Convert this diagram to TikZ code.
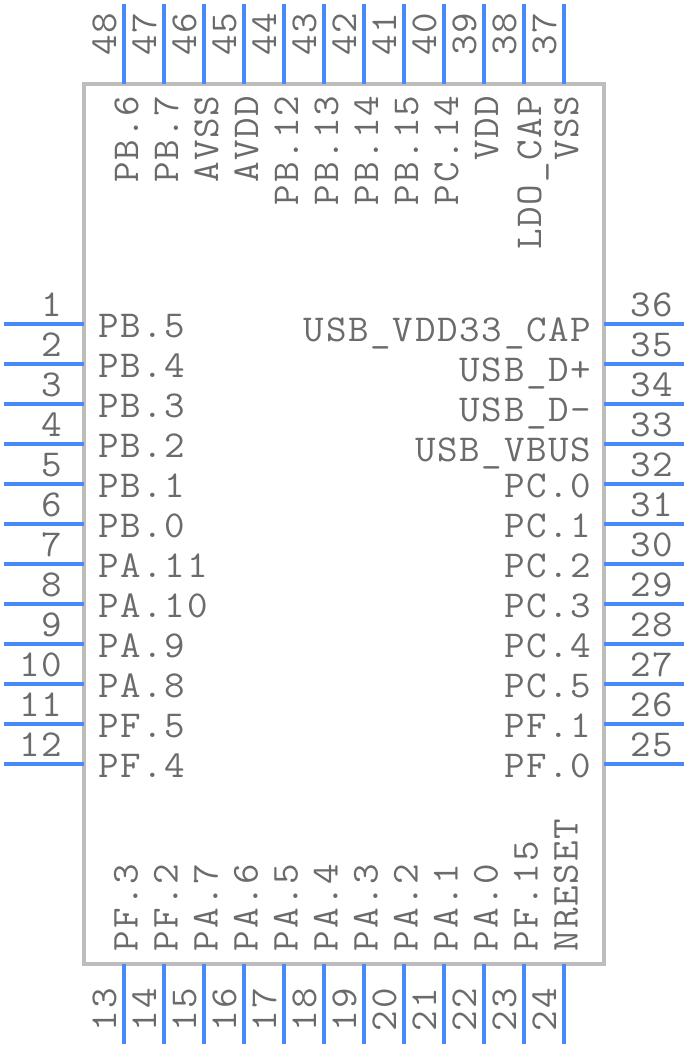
\documentclass[tikz,border=0pt]{standalone}
\usepackage{fontspec}
\newfontfamily\pinfont[FakeStretch=1.05,LetterSpace=4.5]{Latin Modern Mono}
\definecolor{pinblue}{RGB}{70,137,248}
\definecolor{bodygray}{RGB}{189,189,189}
\definecolor{textgray}{RGB}{107,107,107}
\tikzset{
  pinline/.style={draw=pinblue,line width=4pt},
  bodybox/.style={draw=bodygray,line width=4pt,minimum width=520pt,minimum height=880pt,inner sep=0pt,outer sep=0pt,fill=none},
  lbl/.style={inner sep=0pt,outer sep=0pt,text=textgray,font=\pinfont\fontsize{38}{38}\selectfont},
}
\begin{document}
\begin{tikzpicture}[x=1pt,y=-1pt]
\useasboundingbox (0,0) rectangle (688,1048);
\node[bodybox] (body) at (344,524) {};
% left side
\foreach \n/\t/\o [count=\i from 0] in {1/PB.5/0,2/PB.4/0,3/PB.3/0,4/PB.2/0,5/PB.1/0,6/PB.0/0,7/PA.11/0,8/PA.10/0,9/PA.9/0,10/PA.8/0,11/PF.5/0,12/PF.4/0}{
  \pgfmathsetmacro\yy{324+40*\i}
  \coordinate (tip\n) at (4,\yy);
  \coordinate (base\n) at (body.west |- tip\n);
  \draw[pinline] (tip\n) -- (base\n);
  \node[lbl,anchor=base east] (num\n) at (62,\yy-7.5) {\n};
  \node[lbl,anchor=base west] (name\n) at (98,\yy+13.5) {\t};
}
% right side
\foreach \n/\t/\o [count=\i from 0] in {36/USB\_VDD33\_CAP/3.5,35/USB\_D+/3.5,34/USB\_D-/3.5,33/USB\_VBUS/3.5,32/PC.0/0,31/PC.1/0,30/PC.2/0,29/PC.3/0,28/PC.4/0,27/PC.5/0,26/PF.1/0,25/PF.0/0}{
  \pgfmathsetmacro\yy{324+40*\i}
  \coordinate (tip\n) at (684,\yy);
  \coordinate (base\n) at (body.east |- tip\n);
  \draw[pinline] (tip\n) -- (base\n);
  \node[lbl,anchor=base west] (num\n) at (630.5,\yy-7.5) {\n};
  \node[lbl,anchor=base east] (name\n) at (591.5,\yy+13.5+\o) {\t};
}
% bottom side
\foreach \n/\t/\o [count=\i from 0] in {13/PF.3/0,14/PF.2/0,15/PA.7/0,16/PA.6/0,17/PA.5/0,18/PA.4/0,19/PA.3/0,20/PA.2/0,21/PA.1/0,22/PA.0/0,23/PF.15/0,24/NRESET/0}{
  \pgfmathsetmacro\xx{124+40*\i}
  \coordinate (tip\n) at (\xx,1044);
  \coordinate (base\n) at (tip\n |- body.south);
  \draw[pinline] (tip\n) -- (base\n);
  \node[lbl,rotate=90,anchor=base west] (num\n) at (\xx-8,1031) {\n};
  \node[lbl,rotate=90,anchor=base west] (name\n) at (\xx+13.5,951) {\t};
}
% top side
\foreach \n/\t/\o [count=\i from 0] in {48/PB.6/0,47/PB.7/0,46/AVSS/0,45/AVDD/0,44/PB.12/0,43/PB.13/0,42/PB.14/0,41/PB.15/0,40/PC.14/0,39/VDD/0,38/LDO\_CAP/3,37/VSS/0}{
  \pgfmathsetmacro\xx{124+40*\i}
  \coordinate (tip\n) at (\xx,4);
  \coordinate (base\n) at (tip\n |- body.north);
  \draw[pinline] (tip\n) -- (base\n);
  \node[lbl,rotate=90,anchor=base west] (num\n) at (\xx-8,56) {\n};
  \node[lbl,rotate=90,anchor=base east] (name\n) at (\xx+14+\o,95.5) {\t};
}
\end{tikzpicture}
\end{document}
